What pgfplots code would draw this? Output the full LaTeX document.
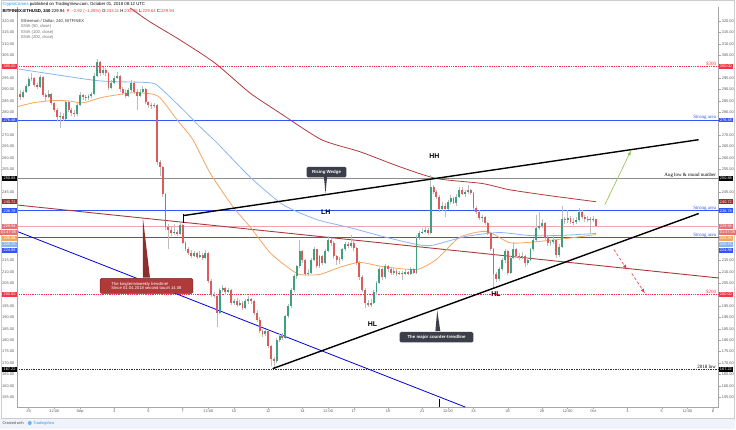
\documentclass[border=0pt]{standalone}
\usepackage{pgfplots}
\pgfplotsset{compat=1.18}
\usepackage{pgfplotstable}
\usepackage{fontspec}
\setmainfont{Liberation Sans}
\newfontfamily\serf{Liberation Serif}

\definecolor{upc}{HTML}{3DA17F}
\definecolor{dnc}{HTML}{DE5B5B}
\definecolor{wick}{HTML}{BDBDBD}
\definecolor{ema50}{HTML}{F7A55E}
\definecolor{ema100}{HTML}{8AB6F2}
\definecolor{ema200}{HTML}{B03B3B}
\definecolor{trendred}{HTML}{A83A3A}
\definecolor{lvlblue}{HTML}{3355F5}
\definecolor{tvred}{HTML}{F23645}
\definecolor{curp}{HTML}{F4A6A6}
\definecolor{tvblue}{HTML}{2196F3}
\definecolor{callout}{HTML}{3C3F4A}
\definecolor{callred}{HTML}{B03A3A}
\definecolor{arrgreen}{HTML}{8BC34A}
\definecolor{footer}{HTML}{F0F3FA}
\definecolor{boxred}{HTML}{E57373}
\definecolor{boxdark}{HTML}{962F2F}

\newcommand\fs[1]{\fontsize{#1}{#1}\selectfont}

% 4h candles, i = candle index (x = -2.5 + i/6 days, Sep 1 = day 1)
\pgfplotstableread{
i o h l c
0 288 289.5 285.5 286.5
1 286.5 289.8 286 289
2 289 292.5 288.5 291.5
3 291.5 295.5 291 294.5
4 294.5 297 293.5 295
5 295 295.5 291 292
6 292 293 290 291
7 291 296.5 290.5 295.5
8 295.5 296 286.5 287.5
9 287.5 288.5 285 286.5
10 286.5 289.5 286 288
11 288 288.5 283 284
12 284 284.5 280 281
13 281 282 276 278
14 278 280 273 278.5
15 278.5 279.5 276 277
16 277 285.5 276.5 284.5
17 284.5 285 280 281
18 281 282 278.5 279.5
19 279.5 281 278 279
20 279 284 278.5 283
21 283 289 282.5 287.5
22 287.5 288 285.5 286.5
23 286.5 287.5 285 286
24 286 288 285.5 287
25 287 289 286 288
26 288 297 287.5 296
27 296 303.5 295.5 302
28 302 302.5 296 297
29 297 300 296.5 298.5
30 298.5 299.5 296 297
31 297 297.5 289.5 290.5
32 290.5 294 290 293
33 293 296 292.5 295
34 295 297.5 294.5 296
35 296 296.5 289 290
36 290 291 287.5 288.5
37 288.5 289.5 286 287
38 287 290.5 286.5 289.5
39 289.5 294 289 293
40 293 293.5 288 289
41 289 290 281 287
42 287 290 286.5 289
43 289 291.5 288.5 290
44 290 290.5 283.5 284.5
45 284.5 285 282 283
46 283 284 281.5 282.5
47 282.5 284 282 283
48 283 283.5 257 258
49 258 259 252 256
50 256 256.5 243 244
51 244 244.5 228.5 229.5
52 229.5 231 220 228.5
53 228.5 229.5 225.5 227
54 227 231 226 227.5
55 227.5 228.5 225.5 226.5
56 226.5 232 226 230.6
57 230.6 231 222 222.8
58 222.8 223.5 219 220
59 220 221 217.5 218.4
60 218.4 219.5 216 217
61 217 219 216.5 218
62 218 218.5 215.5 216.5
63 216.5 219 216 217.5
64 217.5 218 215 216
65 216 219.5 215.5 218
66 218 218.5 205 206
67 206 207 199 200
68 200 201 198.5 199.5
69 199.5 200 185.6 192
70 192 203 191.5 202
71 202 204 201 203
72 203 203.5 200 201
73 201 203 200.5 202
74 202 202.5 195.5 196.5
75 196.5 198 195.5 197
76 197 198.5 194.5 195.5
77 195.5 197.5 195 196.5
78 196.5 197 193 194
79 194 198 193.5 197
80 197 199.5 196 198
81 198 198.5 196 197
82 197 197.5 191 192
83 192 193 188 189
84 189 190 183 184
85 184 185 181.5 182.5
86 182.5 185 182 184
87 184 184.5 176.5 177.5
88 177.5 178 168.5 171.7
89 171.7 172.5 167.3 170.8
90 170.8 181 170 180
91 180 182.5 179 181.6
92 181.6 183 180 181
93 181 191 180.5 190.5
94 190.5 196 189.5 195
95 195 203 194 202
96 202 209 201 208
97 208 213 207 212.3
98 212.3 224 211.5 219
99 219 219.5 214 215
100 215 215.5 208 209
101 209 211 208 209.6
102 209.6 216 209 215
103 215 221 214.5 219.8
104 219.8 220 211.5 212.3
105 212.3 217.5 211.5 216.7
106 216.7 217.5 213 214
107 214 220 213.5 219
108 219 225.5 218.5 224
109 224 225 221.5 222.8
110 222.8 223.5 215.5 216.7
111 216.7 217.5 213 215
112 215 216.5 213.5 215.4
113 215.4 220.5 214.5 219.8
114 219.8 223 219 222
115 222 223 220.5 221.5
116 221.5 226 220.5 222.8
117 222.8 223.5 219 220.6
118 220.6 221 213 214
119 214 214.5 206.5 207.8
120 207.8 208.5 201 202
121 202 203 194 196.5
122 196.5 197.5 194.5 195.5
123 195.5 198 194.5 196.5
124 196.5 202 196 201
125 201 206 200 205
126 205 212 204.5 211
127 211 211.5 206.5 207.5
128 207.5 213.5 207 212.3
129 212.3 213 210 211
130 211 212 208.5 209.5
131 209.5 211.5 208.5 210.5
132 210.5 211 208 209
133 209 210.5 208.5 209.6
134 209.6 210.5 206.5 209
135 209 211 208.5 210
136 210 210.5 208.5 209.2
137 209.2 212 208.5 211
138 211 211.5 209 209.6
139 209.6 226 209 225
140 225 228 224 227
141 227 229 226.5 227.5
142 227.5 230 227 228.5
143 228.5 229 226 227
144 227 252.6 226.5 247.3
145 247.3 248 244 245
146 245 246 242 243
147 243 243.5 236 237.3
148 237.3 240.5 236.5 239
149 239 240 234 237.5
150 237.5 241.5 237 240.5
151 240.5 243.5 239.5 242.5
152 242.5 243 239.5 240
153 240 244 239 243
154 243 247 242.5 246
155 246 247 243.5 244
156 244 246 243 245
157 245 248 244 246
158 246 246.5 243.5 244.6
159 244.6 245 237 238
160 238 239 235.5 236.4
161 236.4 237 232.5 233.7
162 233.7 235 232 234
163 234 234.5 230.5 231.5
164 231.5 232 226 227
165 227 227.5 219 219.8
166 219.8 220.5 203 208.8
167 208.8 210 205.5 207
168 207 212 206 211
169 211 216 210.5 215
170 215 220 214 219
171 219 219.5 208.5 209.6
172 209.6 217 209 216.2
173 216.2 223 215.5 219.8
174 219.8 220.5 216 217
175 217 218 215 216.5
176 216.5 218.5 215.5 217
177 217 217.5 212 214
178 214 216.5 213 215
179 215 220.5 214.5 219.8
180 219.8 225 219 224
181 224 235 223.5 229.3
182 229.3 236 228.5 230
183 230 233 229 231.5
184 231.5 232 224 225
185 225 226 221.5 222.8
186 222.8 224 221.5 223
187 223 225.5 222 224
188 224 224.5 216 217.5
189 217.5 222 216.5 221
190 221 239 220.5 233
191 233 234 231 232.5
192 232.5 237 231.5 233.5
193 233.5 234.5 231 232
194 232 233.5 230.5 231.8
195 231.8 234 231 232.5
196 232.5 238 232 236.4
197 236.4 237 233 234
198 234 235 232 233
199 233 234.5 232 233.2
200 233.2 234 227 232.8
201 232.8 234.5 232 233.11
202 233.11 233.35 229.64 229.94
}\candles

\begin{document}
\begin{tikzpicture}
\fill[white] (0,0) rectangle (736bp,430bp);
\fill[footer] (0,0) rectangle (736bp,11bp);
\draw[black!20, line width=0.4bp] (0.5bp,11bp) rectangle (735.5bp,429.5bp);

\begin{axis}[
  at={(17bp,22bp)}, anchor=south west, scale only axis,
  width=703bp, height=401bp,
  xmin=-2.663, xmax=38.33, ymin=150.63, ymax=326.13,
  axis x line*=bottom, axis y line*=right,
  axis line style={draw=black!35, line width=0.5bp},
  clip mode=individual,
  tick align=outside, major tick length=2bp,
  tick style={black!35, line width=0.4bp},
  /pgf/number format/assume math mode=true,
  ytick={155,160,165,170,175,180,185,190,195,205,210,215,245,255,260,265,270,280,285,290,295,305,310,315,320},
  yticklabel={\pgfmathprintnumber[fixed,fixed zerofill,precision=2]{\tick}},
  yticklabel style={font=\fs{3.9}, text=black!65, inner sep=1bp},
  xtick={-2,-0.5,1,3,5,7,8.5,10,12,14,15.5,17,19,21,22.5,24,26,28,29.5,31,33,35,36.5,38},
  xticklabels={29,12:00,Sep,3,5,7,12:00,10,12,14,12:00,17,19,21,12:00,24,26,28,12:00,Oct,3,5,12:00,8},
  xticklabel style={font=\fs{3.9}, text=black!65, inner sep=1bp},
]

% horizontal levels
\draw[tvred, densely dotted, line width=0.8bp] (axis cs:-2.663,300) -- (axis cs:38.33,300);
\draw[lvlblue, line width=1.1bp] (axis cs:-2.663,276.48) -- (axis cs:38.33,276.48);
\draw[black!45, line width=0.5bp] (axis cs:-2.663,250.88) -- (axis cs:38.33,250.88);
\draw[lvlblue, line width=1.1bp] (axis cs:-2.663,236.78) -- (axis cs:38.33,236.78);
\draw[curp, line width=0.5bp] (axis cs:-2.663,229.94) -- (axis cs:38.33,229.94);
\draw[lvlblue, line width=1.1bp] (axis cs:-2.663,224.88) -- (axis cs:38.33,224.88);
\draw[tvred, densely dotted, line width=0.8bp] (axis cs:-2.663,200) -- (axis cs:38.33,200);
\draw[black!80, densely dotted, line width=0.7bp] (axis cs:-2.663,167.22) -- (axis cs:38.33,167.22);

% trend lines
\draw[trendred, line width=0.9bp] (axis cs:-2.663,239.26) -- (axis cs:38.33,207.26);
\draw[blue!85!black, line width=0.8bp] (axis cs:-2.663,227.66) -- (axis cs:23.52,150.63);

% EMAs
\addplot[ema50, line width=0.8bp, smooth, tension=0.4] coordinates {
(-2.66,282.4) (-1.73,284.1) (-0.74,285.0) (0.25,285.0) (1.19,284.1) (2.18,286.3)
(3.17,287.6) (4.1,288.5) (5.09,288.1) (5.68,286.3) (6.67,276.7) (7.6,267.9)
(8.59,253.5) (9.93,238.6) (10.92,229.9) (12.09,218.5) (13.08,212.3) (13.84,208.8)
(15.0,208.8) (16.17,211.9) (17.34,214.1) (18.68,212.3) (20.66,211.0) (21.83,215.4)
(23.17,225.0) (24.74,227.7) (26.08,222.8) (27.07,222.8) (29.0,224.2) (31.16,226.3)};
\addplot[ema100, line width=0.8bp, smooth, tension=0.4] coordinates {
(-2.66,299.0) (-0.74,296.8) (2.18,293.7) (5.09,292.9) (5.68,290.7) (7.02,281.1)
(8.01,273.6) (9.0,266.6) (10.92,251.7) (12.85,239.5) (14.83,232.9) (16.75,229.4)
(18.68,225.5) (20.66,222.0) (21.59,221.6) (23.57,225.5) (25.5,227.2) (27.25,225.9)
(29.0,225.9) (31.16,226.8)};
\addplot[ema200, line width=0.8bp, smooth, tension=0.4] coordinates {
(3.93,325.7) (5.09,319.6) (6.84,311.7) (8.88,301.6) (10.92,288.5) (12.67,279.7)
(15.12,267.9) (17.34,262.7) (19.67,256.1) (21.83,250.9) (24.51,248.7) (26.08,246.0)
(28.42,243.4) (31.16,240.7)};

% candles: wicks, then bodies
\addplot[draw=none, mark=none, forget plot,
  error bars/.cd, y dir=plus, y explicit, error mark=none,
  error bar style={draw=wick, line width=0.55bp}]
  table[x expr=-2.5+\thisrow{i}/6, y=l, y error expr=\thisrow{h}-\thisrow{l}] {\candles};
\addplot[draw=none, mark=none, forget plot,
  restrict expr to domain={\thisrow{c}-\thisrow{o}}{0:1000},
  error bars/.cd, y dir=plus, y explicit, error mark=none,
  error bar style={draw=upc, line width=1.9bp}]
  table[x expr=-2.5+\thisrow{i}/6, y=o, y error expr=\thisrow{c}-\thisrow{o}] {\candles};
\addplot[draw=none, mark=none, forget plot,
  restrict expr to domain={\thisrow{o}-\thisrow{c}}{0.001:1000},
  error bars/.cd, y dir=plus, y explicit, error mark=none,
  error bar style={draw=dnc, line width=1.9bp}]
  table[x expr=-2.5+\thisrow{i}/6, y=c, y error expr=\thisrow{o}-\thisrow{c}] {\candles};

% wedge
\draw[black, line width=1.4bp] (axis cs:7.07,234.66) -- (axis cs:37.16,267.92);
\draw[black, line width=1.4bp] (axis cs:12.26,167.48) -- (axis cs:37.16,235.54);
\draw[black, line width=0.9bp] (axis cs:7.07,235.54) -- (axis cs:7.07,231.16);
\draw[black, line width=0.9bp] (axis cs:21.99,154.1) -- (axis cs:21.99,150.63);

% arrows
\draw[arrgreen, line width=0.6bp, -latex] (axis cs:31.68,239.47) -- (axis cs:33.2,263.1);
\draw[tvred, densely dashed, line width=0.6bp, -latex] (axis cs:32.2,219.78) -- (axis cs:32.96,211.03);
\draw[tvred, densely dashed, line width=0.6bp, -latex] (axis cs:33.25,209.28) -- (axis cs:34.01,200.53);

% callouts
\fill[callout] (axis cs:15.26,251.5) -- (axis cs:15.35,244.29) -- (axis cs:15.44,251.5) -- cycle;
\node[fill=callout, rounded corners=1.5bp, text=white, font=\fs{4.4}\bfseries, minimum width=40bp, minimum height=10.5bp, inner sep=0] at (axis cs:15.41,253.7) {Rising Wedge};
\fill[callout] (axis cs:21.77,183.9) -- (axis cs:21.88,193.08) -- (axis cs:22.06,183.9) -- cycle;
\node[fill=callout, rounded corners=1.5bp, text=white, font=\fs{4.4}\bfseries, minimum width=74bp, minimum height=10.5bp, inner sep=0] at (axis cs:21.84,181.27) {The major counter-trendline};
\fill[callred!80!black] (axis cs:4.684,207.4) -- (axis cs:4.684,233.35) -- (axis cs:5.09,207.4) -- cycle;
\node[fill=callred, draw=callred!70!black, rounded corners=1.5bp, text=white, font=\fs{4.2}, minimum width=93bp, minimum height=15bp, inner sep=0, align=left] at (axis cs:4.888,203.8) {The longterm/weekly trendline!\\Since 01.04.2018 second touch 14.08};

% swing labels
\node[font=\fs{7}\bfseries] at (axis cs:21.71,260.5) {HH};
\node[font=\fs{7}\bfseries] at (axis cs:15.37,235.97) {LH};
\node[font=\fs{7}\bfseries] at (axis cs:18.09,186.96) {HL};
\node[font=\fs{7}\bfseries] at (axis cs:25.32,200.1) {HL};

% level labels
\begin{scope}[every node/.style={anchor=south east, inner sep=0.4bp, font=\serf\fs{5}}]
\node[text=tvred] at (axis cs:38.21,300) {\$300};
\node[text=lvlblue] at (axis cs:38.21,276.48) {Strong area};
\node[text=black] at (axis cs:38.21,250.88) {Aug low \& round number};
\node[text=lvlblue] at (axis cs:38.21,236.78) {Strong area};
\node[text=lvlblue] at (axis cs:38.21,224.88) {Strong area};
\node[text=tvred] at (axis cs:38.21,200) {\$200};
\node[text=black] at (axis cs:38.21,167.22) {2018 low};
\end{scope}

% left price scale
\draw[black!35, line width=0.5bp] (rel axis cs:0,0) -- (rel axis cs:0,1);
\pgfplotsinvokeforeach{155,160,165,170,175,180,185,190,195,205,210,215,245,255,260,265,270,280,285,290,295,305,310,315,320}{
  \node[anchor=east, inner sep=1bp, font=\fs{3.9}, text=black!65] at (axis cs:-2.663,#1) [xshift=-2bp] {#1.00};
}

% price boxes on both scales
\foreach \v/\t/\bg in {300/300.00/tvred, 276.48/276.48/lvlblue, 250.88/250.88/black,
  240.72/240.72/boxdark, 236.78/236.78/lvlblue, 229.94/229.94/boxred,
  227.2/01:47:05/boxred, 224.6/225.38/ema50, 222.0/225.75/ema100, 219.4/224.88/lvlblue,
  200/200.00/tvred, 167.22/167.22/black}
{
  \edef\tmp{\noexpand\node[anchor=west, fill=\bg, text=white, inner xsep=1bp, inner ysep=0.9bp, minimum width=14bp] at (axis cs:38.33,\v) {\noexpand\fs{3.9}\t};
  \noexpand\node[anchor=east, fill=\bg, text=white, inner xsep=1bp, inner ysep=0.9bp, minimum width=15bp] at (axis cs:-2.663,\v) {\noexpand\fs{3.9}\t};}
  \tmp
}
\end{axis}

% header and legend
\node[anchor=west, inner sep=0, font=\fs{4.3}] at (2bp,426bp) {{\color{tvblue}CryptoComes} published on TradingView.com, October 01, 2018 08:12 UTC};
\node[anchor=west, inner sep=0, font=\fs{4.3}] at (2bp,419bp) {\textbf{BITFINEX:ETHUSD, 240} 229.94 {\color{tvred}▼ −2.92 (−1.25\%)} O:{\color{tvred}233.11} H:{\color{tvred}233.35} L:{\color{tvred}229.64} C:{\color{tvred}229.94}};
\node[anchor=west, inner sep=0, font=\fs{4.2}, text=black!80] at (21bp,409bp) {Ethereum / Dollar, 240, BITFINEX};
\node[anchor=west, inner sep=0, font=\fs{4.2}, text=black!55] at (21bp,403.5bp) {EMA (50, close)};
\node[anchor=west, inner sep=0, font=\fs{4.2}, text=black!55] at (21bp,397.8bp) {EMA (100, close)};
\node[anchor=west, inner sep=0, font=\fs{4.2}, text=black!55] at (21bp,392bp) {EMA (200, close)};

% footer
\node[anchor=west, inner sep=0, font=\fs{3.8}, text=black!70] at (2bp,6bp) {Created with};
\fill[tvblue!70] (29.5bp,6bp) circle (2bp);
\node[anchor=west, inner sep=0, font=\fs{3.8}, text=tvblue] at (33bp,6bp) {TradingView};
\end{tikzpicture}
\end{document}
